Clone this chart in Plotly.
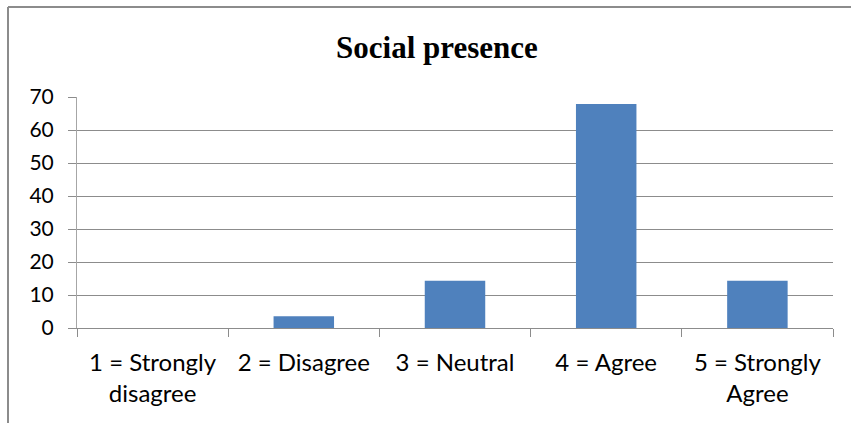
import plotly.graph_objects as go

categories = ["1 = Strongly<br>disagree", "2 = Disagree", "3 = Neutral", "4 = Agree", "5 = Strongly<br>Agree"]
values = [0, 3.57, 14.29, 67.86, 14.29]
y_ticks = [0, 10, 20, 30, 40, 50, 60, 70]
title_text = "Social presence"

W, H = 851, 423
L, R, T, B = 77, 18, 97, 95
FONT = "Lato"

fig = go.Figure(go.Bar(
    x=categories, y=values,
    marker=dict(color="#4F81BD", line=dict(color="#7BA0CD", width=0)),
    width=0.4,
))

fig.update_layout(
    width=W, height=H,
    margin=dict(l=L, r=R, t=T, b=B),
    paper_bgcolor="white", plot_bgcolor="white",
    showlegend=False,
    title=dict(text="<b>" + title_text + "</b>", x=437 / W, xanchor="center",
               y=1 - 47 / H, yanchor="middle",
               font=dict(family="Liberation Serif", size=31, color="black")),
    font=dict(family=FONT, size=20, color="#000000"),
)

fig.update_yaxes(
    range=[0, 70], tickvals=y_ticks, showgrid=True, gridcolor="#8C8C8C", gridwidth=1,
    showline=True, linecolor="#A6A6A6", linewidth=1,
    ticks="outside", ticklen=8, tickcolor="#8C8C8C",
    ticklabelstandoff=10, zeroline=False,
    tickfont=dict(family=FONT, size=21, color="#000000"),
)
fig.update_xaxes(
    showline=True, linecolor="#8C8C8C", linewidth=1,
    ticks="outside", ticklen=8, tickcolor="#8C8C8C", tickson="boundaries",
    ticklabelstandoff=13,
    tickfont=dict(family=FONT, size=24, color="#000000"),
    showgrid=False,
)

# outer chart border (Excel chart area)
fig.add_shape(type="line", xref="paper", yref="paper",
              x0=(8 - L) / (W - L - R), x1=(8 - L) / (W - L - R),
              y0=(H - B - 7) / (H - T - B), y1=-(B + 5) / (H - T - B),
              line=dict(color="#8C8C8C", width=2))
fig.add_shape(type="line", xref="paper", yref="paper",
              x0=(8 - L) / (W - L - R), x1=(W + 5 - L) / (W - L - R),
              y0=(H - B - 7) / (H - T - B), y1=(H - B - 7) / (H - T - B),
              line=dict(color="#8C8C8C", width=2))

fig.write_html("out.html")
